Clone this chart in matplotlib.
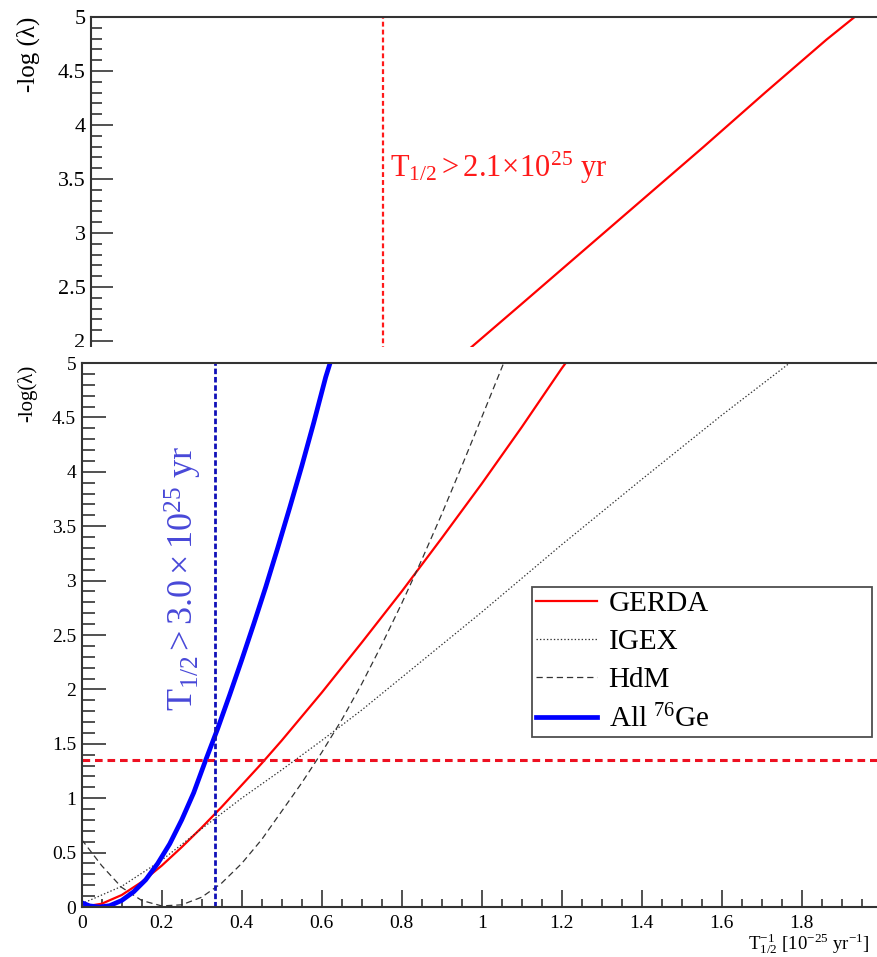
import matplotlib as mpl
mpl.use('Agg')
import matplotlib.pyplot as plt
from matplotlib.ticker import MultipleLocator, FuncFormatter

plt.rcParams['font.family'] = ['Liberation Serif', 'DejaVu Serif']
plt.rcParams['mathtext.fontset'] = 'custom'
plt.rcParams['mathtext.rm'] = 'Liberation Serif'
plt.rcParams['mathtext.it'] = 'Liberation Serif:italic'
plt.rcParams['mathtext.bf'] = 'Liberation Serif:bold'
plt.rcParams['lines.scale_dashes'] = False

# GERDA-only profile (upper panel)
top_x = [0.62, 0.70, 0.80, 0.90, 1.00, 1.10, 1.20, 1.246, 1.26]
top_y = [1.94, 2.33, 2.82, 3.31, 3.80, 4.30, 4.79, 5.0, 5.07]
top_limit = 2.1          # T1/2 limit, 1e25 yr

# combined profiles (lower panel), x = 1/T1/2 in 1e-25 / yr
gerda_x = [0.0, 0.05, 0.10, 0.15, 0.20, 0.25, 0.30, 0.35, 0.40, 0.45, 0.50,
           0.55, 0.60, 0.70, 0.80, 0.90, 1.00, 1.10, 1.20, 1.21]
gerda_y = [0.0, 0.03, 0.11, 0.23, 0.38, 0.55, 0.73, 0.92, 1.12, 1.32, 1.53,
           1.75, 1.97, 2.43, 2.90, 3.39, 3.89, 4.41, 4.95, 5.0]

igex_x = [0.0, 0.10, 0.20, 0.30, 0.40, 0.50, 0.60, 0.70, 0.80, 0.90, 1.00,
          1.20, 1.40, 1.60, 1.77]
igex_y = [0.03, 0.19, 0.43, 0.72, 1.00, 1.26, 1.53, 1.81, 2.11, 2.41, 2.71,
          3.33, 3.93, 4.52, 5.0]

hdm_x = [0.0, 0.05, 0.10, 0.15, 0.20, 0.25, 0.30, 0.35, 0.40, 0.45, 0.50,
         0.55, 0.60, 0.65, 0.70, 0.75, 0.80, 0.85, 0.90, 0.95, 1.00, 1.055]
hdm_y = [0.62, 0.38, 0.18, 0.06, 0.01, 0.02, 0.09, 0.22, 0.40, 0.62, 0.88,
         1.14, 1.42, 1.72, 2.05, 2.41, 2.79, 3.19, 3.61, 4.05, 4.50, 5.0]

all_x = [0.0, 0.02, 0.045, 0.07, 0.10, 0.13, 0.16, 0.19, 0.22, 0.25, 0.28,
         0.31, 0.34, 0.37, 0.40, 0.43, 0.46, 0.49, 0.52, 0.55, 0.58, 0.61,
         0.621]
all_y = [0.04, 0.01, 0.0, 0.012, 0.06, 0.14, 0.25, 0.40, 0.58, 0.80, 1.05,
         1.35, 1.64, 1.95, 2.27, 2.60, 2.94, 3.30, 3.67, 4.05, 4.45, 4.87,
         5.0]

all_limit = 3.0          # combined T1/2 limit, 1e25 yr
cl90 = 1.35              # 90% C.L. level of -log(lambda)

W, H = 878, 957
fig = plt.figure(figsize=(W / 100, H / 100), dpi=100)
fmt = FuncFormatter(lambda v, p: '%g' % v)


def style_axis(ax, ymaj, ymin, xmaj=None, xmin=None, lsize=14):
    for s in ('left', 'bottom', 'top'):
        ax.spines[s].set_linewidth(1.5)
        ax.spines[s].set_color('#333333')
    ax.spines['right'].set_visible(False)
    ax.yaxis.set_major_locator(MultipleLocator(0.5))
    ax.yaxis.set_minor_locator(MultipleLocator(0.1))
    ax.xaxis.set_major_locator(MultipleLocator(0.2))
    ax.xaxis.set_minor_locator(MultipleLocator(0.05))
    ax.tick_params(axis='y', which='major', direction='in', length=ymaj,
                   width=1.1, color='#222222', labelsize=lsize, pad=4)
    ax.tick_params(axis='y', which='minor', direction='in', length=ymin,
                   width=1.1, color='#222222')
    if xmaj is not None:
        ax.tick_params(axis='x', which='major', direction='in', length=xmaj,
                       width=1.1, color='#222222', labelsize=lsize, pad=6)
        ax.tick_params(axis='x', which='minor', direction='in', length=xmin,
                       width=1.1, color='#222222')
    ax.yaxis.set_major_formatter(fmt)
    ax.xaxis.set_major_formatter(fmt)


# upper panel: GERDA alone
ax_top = fig.add_axes([91 / W, (H - 557) / H, 858 / W, 540 / H])
ax_top.set_xlim(0, 1.4)
ax_top.set_ylim(0, 5)
style_axis(ax_top, 16, 8, lsize=16)
ax_top.tick_params(axis='x', which='both', bottom=False, labelbottom=False)
ax_top.plot(top_x, top_y, color='#ff0000', lw=1.6)
ax_top.axvline(1 / top_limit, color='#ff1a1a', lw=1.6, dashes=(3.5, 2.2))
ax_top.text(1 / top_limit + 0.012, 3.52,
            r'$\mathrm{T}_{1/2} > 2.1\!\times\!10^{25}$ yr',
            color='#ff1a1a', fontsize=22, va='baseline', ha='left')
fig.text(28 / W, 1 - 17 / H, '-log (λ)', fontsize=18, rotation=90,
         ha='center', va='top')

# white page of the lower panel sits over the upper one
cover = fig.add_axes([0, 0, 1, (H - 347) / H])
cover.set_facecolor('white')
cover.set_xticks([])
cover.set_yticks([])
for s in cover.spines.values():
    s.set_visible(False)

# lower panel: all 76Ge experiments
ax = fig.add_axes([81.7 / W, 50 / H, 800 / W, 544 / H])
ax.set_xlim(0, 2)
ax.set_ylim(0, 5)
style_axis(ax, 17, 9.5, 12, 6, lsize=14)

ax.plot(gerda_x, gerda_y, color='#ff0000', lw=1.6, label='GERDA')
ax.plot(igex_x, igex_y, color='#333333', lw=0.9, dashes=(1.0, 1.5), label='IGEX')
ax.plot(hdm_x, hdm_y, color='#333333', lw=0.9, dashes=(4.5, 2.8), label='HdM')
ax.plot(all_x, all_y, color='#0000ff', lw=3.4, label=r'All $^{76}$Ge')

ax.axhline(cl90, color='#ee1122', lw=2.2, dashes=(5.5, 3.5))
ax.axvline(1 / all_limit, color='#1010b8', lw=2.0, dashes=(4.0, 2.0))
ax.text(1 / all_limit - 0.08, 1.80,
        r'$\mathrm{T}_{1/2} > 3.0 \times 10^{25}$ yr',
        color='#4848d8', fontsize=26, rotation=90, ha='center', va='bottom')

fig.text(27 / W, 1 - 365 / H, '-log(λ)', fontsize=15, rotation=90,
         ha='center', va='top')
fig.text(748 / W, 1 - 931 / H,
         r'$\mathrm{T}_{1/2}^{-1}$ [10$^{-25}$ yr$^{-1}$]',
         fontsize=13.5, ha='left', va='top')

leg = ax.legend(loc='upper left', bbox_to_anchor=(0.563, 0.3125, 0.425, 0.2757),
                mode='expand', fontsize=21, frameon=True, fancybox=False,
                handlelength=2.1, handletextpad=0.4, labelspacing=0.40,
                borderpad=0.12, borderaxespad=0)
leg.get_frame().set_edgecolor('#222222')
leg.get_frame().set_linewidth(1.3)

fig.savefig('out.png', dpi=100)
